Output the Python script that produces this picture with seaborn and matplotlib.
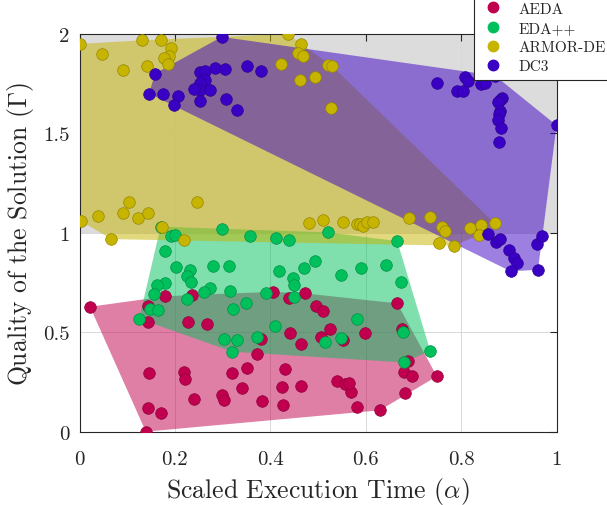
import numpy as np
import pandas as pd
import matplotlib
matplotlib.use("Agg")
import matplotlib.pyplot as plt
import matplotlib.colors as mcolors
from matplotlib.lines import Line2D
import seaborn as sns

# ---------------- data ----------------
methods = ["AEDA", "EDA++", "ARMOR-DE", "DC3"]
colors = ["#C0004E", "#00C05C", "#C6B400", "#3A00C4"]

aeda_x = [0.022, 0.139, 0.143, 0.143, 0.179, 0.235, 0.228, 0.268, 0.146, 0.218, 0.222, 0.144, 0.171,
          0.239, 0.299, 0.303, 0.320, 0.340, 0.352, 0.371, 0.380, 0.383, 0.405, 0.439, 0.441, 0.465,
          0.473, 0.431, 0.425, 0.427, 0.465, 0.496, 0.510, 0.525, 0.506, 0.553, 0.599, 0.666, 0.675,
          0.688, 0.680, 0.696, 0.749, 0.683, 0.629, 0.582, 0.569, 0.539, 0.557, 0.565]
aeda_y = [0.628, 0.000, 0.630, 0.552, 0.680, 0.687, 0.549, 0.541, 0.296, 0.299, 0.264, 0.120, 0.096,
          0.164, 0.185, 0.158, 0.296, 0.219, 0.319, 0.391, 0.464, 0.153, 0.703, 0.672, 0.497, 0.442,
          0.695, 0.314, 0.224, 0.135, 0.230, 0.630, 0.608, 0.516, 0.474, 0.462, 0.494, 0.645, 0.516,
          0.356, 0.298, 0.281, 0.278, 0.192, 0.107, 0.125, 0.197, 0.253, 0.241, 0.244]

eda_x = [0.170, 0.192, 0.201, 0.299, 0.357, 0.411, 0.440, 0.179, 0.202, 0.231, 0.225, 0.233, 0.179,
         0.162, 0.157, 0.279, 0.313, 0.273, 0.260, 0.316, 0.225, 0.148, 0.165, 0.125, 0.322, 0.348,
         0.390, 0.418, 0.471, 0.448, 0.450, 0.450, 0.494, 0.409, 0.303, 0.330, 0.371, 0.320, 0.520,
         0.666, 0.548, 0.589, 0.642, 0.673, 0.582, 0.548, 0.514, 0.679, 0.735, 0.680]
eda_y = [1.031, 0.982, 0.987, 1.019, 0.985, 0.974, 0.964, 0.910, 0.826, 0.811, 0.781, 0.754, 0.749,
         0.737, 0.692, 0.834, 0.834, 0.724, 0.700, 0.707, 0.665, 0.616, 0.610, 0.568, 0.615, 0.648,
         0.698, 0.808, 0.824, 0.774, 0.737, 0.678, 0.858, 0.529, 0.467, 0.462, 0.477, 0.402, 1.002,
         0.958, 0.786, 0.824, 0.838, 0.752, 0.566, 0.470, 0.452, 0.499, 0.407, 0.348]

armor_x = [0.001, 0.047, 0.091, 0.132, 0.170, 0.191, 0.188, 0.178, 0.186, 0.142, 0.436, 0.464, 0.457,
           0.469, 0.422, 0.520, 0.529, 0.463, 0.494, 0.528,
           0.104, 0.092, 0.039, 0.123, 0.144, 0.003, 0.247, 0.172, 0.067, 0.218, 0.481, 0.511, 0.552,
           0.581, 0.588, 0.595, 0.602, 0.615, 0.691, 0.735, 0.754, 0.784, 0.759, 0.767, 0.819, 0.842,
           0.838, 0.870]
armor_y = [1.950, 1.900, 1.817, 1.968, 1.971, 1.931, 1.891, 1.879, 1.849, 1.841, 2.000, 1.950, 1.903,
           1.888, 1.849, 1.844, 1.839, 1.767, 1.782, 1.628,
           1.156, 1.101, 1.084, 1.073, 1.098, 1.058, 1.156, 1.027, 0.968, 0.962, 1.049, 1.063, 1.056,
           1.046, 1.046, 1.036, 1.052, 1.056, 1.076, 1.078, 0.948, 0.935, 1.027, 1.009, 1.024, 1.040,
           0.989, 1.048]

dc3_x = [0.298, 0.158, 0.146, 0.176, 0.207, 0.199, 0.253, 0.263, 0.284, 0.305, 0.263, 0.253, 0.253,
         0.240, 0.274, 0.253, 0.307, 0.331, 0.351, 0.381, 0.750, 0.809, 0.815, 0.792, 0.804, 0.841,
         0.850, 0.871, 0.885, 0.882, 0.878, 0.882, 0.880, 0.878, 0.883, 0.880, 1.000, 0.856, 0.873,
         0.882, 0.901, 0.911, 0.918, 0.904, 0.961, 0.958, 0.970]
dc3_y = [1.985, 1.800, 1.700, 1.700, 1.687, 1.645, 1.810, 1.812, 1.830, 1.825, 1.767, 1.753, 1.720,
         1.723, 1.720, 1.663, 1.675, 1.616, 1.839, 1.812, 1.753, 1.785, 1.763, 1.715, 1.712, 1.748,
         1.753, 1.790, 1.680, 1.670, 1.656, 1.614, 1.597, 1.569, 1.525, 1.457, 1.540, 0.994, 0.955,
         0.967, 0.913, 0.875, 0.846, 0.806, 0.814, 0.942, 0.985]

xticks = [0, 0.2, 0.4, 0.6, 0.8, 1]
xticklabels = ["0", "0.2", "0.4", "0.6", "0.8", "1"]
yticks = [0, 0.5, 1, 1.5, 2]
yticklabels = ["0", "0.5", "1", "1.5", "2"]
region_y = [1, 2]   # shaded band

series = [(aeda_x, aeda_y), (eda_x, eda_y), (armor_x, armor_y), (dc3_x, dc3_y)]
df = pd.concat([pd.DataFrame({"x": sx, "y": sy, "method": m})
                for m, (sx, sy) in zip(methods, series)], ignore_index=True)


def convex_hull(pts):
    pts = sorted(set(map(tuple, pts)))
    if len(pts) < 3:
        return pts

    def cross(o, a, b):
        return (a[0] - o[0]) * (b[1] - o[1]) - (a[1] - o[1]) * (b[0] - o[0])
    lower, upper = [], []
    for p in pts:
        while len(lower) >= 2 and cross(lower[-2], lower[-1], p) <= 0:
            lower.pop()
        lower.append(p)
    for p in reversed(pts):
        while len(upper) >= 2 and cross(upper[-2], upper[-1], p) <= 0:
            upper.pop()
        upper.append(p)
    return lower[:-1] + upper[:-1]


# ---------------- style ----------------
sns.set_style("white")
plt.rcParams["font.family"] = "serif"
plt.rcParams["font.serif"] = ["cmr10", "DejaVu Serif"]
plt.rcParams["mathtext.fontset"] = "cm"
plt.rcParams["axes.formatter.use_mathtext"] = True
plt.rcParams["axes.unicode_minus"] = False

fig = plt.figure(figsize=(6.07, 5.06), dpi=100)
ax = fig.add_axes([0.131, 0.145, 0.786, 0.786])

ax.set_xlim(0, 1)
ax.set_ylim(0, 2)
ax.set_axisbelow(True)
ax.grid(True, color="#d8d8d8", linewidth=0.7)

# shaded band
ax.axhspan(region_y[0], region_y[1], xmin=0, xmax=1, color="0.5", alpha=0.27, lw=0, zorder=0.5)

# hulls
for m, c, (sx, sy) in zip(methods, colors, series):
    h = convex_hull(list(zip(sx, sy)))
    hx, hy = zip(*h)
    ax.fill(hx, hy, color=c, alpha=0.5, lw=0, zorder=1)

# points
edgecols = [tuple(v * 0.75 for v in mcolors.to_rgb(c)) for c in colors]
for m, c, ec in zip(methods, colors, edgecols):
    sns.scatterplot(data=df[df.method == m], x="x", y="y", color=c, s=70,
                    edgecolor=ec, linewidth=0.5, ax=ax, zorder=3, legend=False)

ax.set_xticks(xticks)
ax.set_xticklabels(xticklabels)
ax.set_yticks(yticks)
ax.set_yticklabels(yticklabels)
ax.tick_params(direction="in", length=5, width=0.8, top=True, right=True,
               labelsize=15, colors="#262626")
ax.tick_params(axis="x", pad=13)
ax.tick_params(axis="y", pad=7)
for sp in ax.spines.values():
    sp.set_color("#262626")
    sp.set_linewidth(0.8)
    sp.set_visible(True)

ax.set_xlabel(r"Scaled Execution Time ($\alpha$)", fontsize=18.5, color="#262626", labelpad=5)
ax.set_ylabel(r"Quality of the Solution ($\Gamma$)", fontsize=18.5, color="#262626", labelpad=5)

handles = [Line2D([], [], marker="o", linestyle="none", markersize=7.5,
                  markerfacecolor=c, markeredgecolor=c, label=m)
           for m, c in zip(methods, colors)]
leg = ax.legend(handles=handles, loc="upper left", bbox_to_anchor=(0.781, 1.006),
                bbox_transform=fig.transFigure, frameon=True, fancybox=False,
                fontsize=11, handletextpad=0.8, borderpad=0.4, labelspacing=0.36,
                handlelength=1.7, borderaxespad=0)
leg.get_frame().set_edgecolor("#262626")
leg.get_frame().set_linewidth(0.8)
leg.get_frame().set_alpha(1)
for t in leg.get_texts():
    t.set_color("#262626")

fig.savefig("out.png", dpi=100)
